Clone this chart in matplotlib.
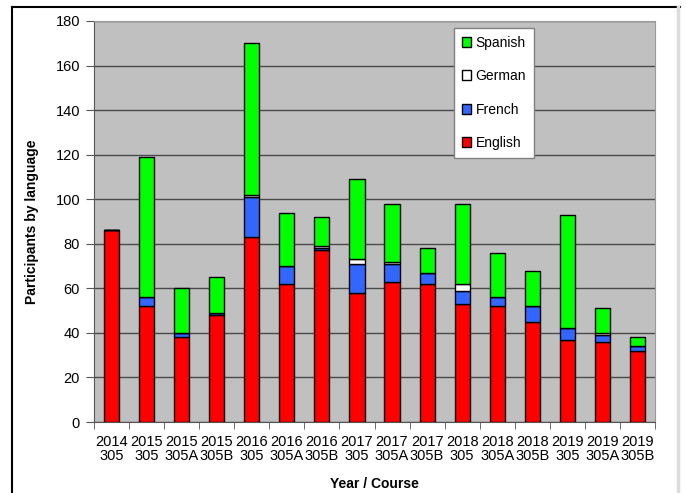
import matplotlib.pyplot as plt
from matplotlib.lines import Line2D
from matplotlib.patches import Patch
import numpy as np

plt.rcParams['font.family'] = ['Liberation Sans', 'DejaVu Sans']

courses = ["2014\n305", "2015\n305", "2015\n305A", "2015\n305B",
           "2016\n305", "2016\n305A", "2016\n305B", "2017\n305",
           "2017\n305A", "2017\n305B", "2018\n305", "2018\n305A",
           "2018\n305B", "2019\n305", "2019\n305A", "2019\n305B"]
english = [86, 52, 38, 48, 83, 62, 77, 58, 63, 62, 53, 52, 45, 37, 36, 32]
french = [0, 4, 2, 1, 18, 8, 1, 13, 8, 5, 6, 4, 7, 5, 3, 2]
german = [0, 0, 0, 0, 1, 0, 1, 2, 1, 0, 3, 0, 0, 0, 1, 0]
spanish = [0, 63, 20, 16, 68, 24, 13, 36, 26, 11, 36, 20, 16, 51, 11, 4]

languages = ["English", "French", "German", "Spanish"]
colors = ["#FF0000", "#3366FF", "#FFFFFF", "#00FF00"]

fig = plt.figure(figsize=(6.86, 4.93), dpi=100)
ax = fig.add_axes([94 / 686, 71 / 493, 561 / 686, 401 / 493])
ax.set_facecolor("#C0C0C0")

x = np.arange(len(courses))
bottom = np.zeros(len(courses))
for name, vals, col in zip(languages, [english, french, german, spanish], colors):
    vals = np.array(vals, dtype=float)
    ax.bar(x, vals, width=0.43, bottom=bottom, color=col,
           edgecolor="black", linewidth=1.0, label=name, zorder=3)
    bottom += vals

ax.set_xlim(-0.5, len(courses) - 0.5)
ax.set_ylim(0, 180)
ax.set_yticks(np.arange(0, 181, 20))
ax.yaxis.grid(True, color="#4a4a4a", linewidth=1.0, zorder=1)
ax.set_axisbelow(True)

ax.set_xticks(x)
ax.set_xticklabels(courses, fontsize=10.5, linespacing=1.05)
ax.set_xticks(np.arange(-0.5, len(courses), 1), minor=True)
ax.tick_params(axis="x", which="major", length=0, pad=9)
ax.tick_params(axis="x", which="minor", length=5, color="#555555")
ax.tick_params(axis="y", length=6, color="#555555", labelsize=10.5, pad=4)

for side in ["left", "bottom"]:
    ax.spines[side].set_color("#555555")
for side in ["right", "top"]:
    ax.spines[side].set_color("#9a9a9a")

ax.set_ylabel("Participants by language", fontsize=10, fontweight="bold", labelpad=12)
ax.set_xlabel("Year / Course", fontsize=10, fontweight="bold", labelpad=10)

handles = [Patch(facecolor=c, edgecolor="black", linewidth=1.0) for c in colors]
leg = ax.legend(handles[::-1], languages[::-1], loc="upper left",
                bbox_to_anchor=(454 / 686, 1 - 28 / 493), bbox_transform=fig.transFigure,
                borderaxespad=0, fancybox=False, framealpha=1, facecolor="white",
                edgecolor="#808080", fontsize=10, handlelength=0.7, handleheight=0.7,
                handletextpad=0.3, labelspacing=1.4, borderpad=0.55)
leg.get_frame().set_linewidth(1.0)

# outer chart frame
fig.add_artist(Line2D([12 / 686, 680 / 686], [1 - 7 / 493, 1 - 7 / 493],
                      color="black", linewidth=1.5))
fig.add_artist(Line2D([12 / 686, 12 / 686], [0, 1 - 7 / 493],
                      color="black", linewidth=1.5))
fig.add_artist(Line2D([678 / 686, 678 / 686], [0, 1 - 7 / 493],
                      color="#dcdcdc", linewidth=2.5))

fig.savefig("out.png", dpi=100)
